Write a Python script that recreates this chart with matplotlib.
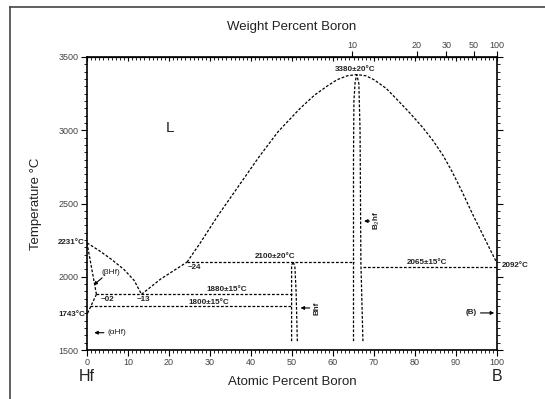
import numpy as np
import matplotlib
matplotlib.use("Agg")
import matplotlib.pyplot as plt
from matplotlib.lines import Line2D
from matplotlib.ticker import MultipleLocator

plt.rcParams['font.family'] = ['Liberation Sans', 'DejaVu Sans']

M_B = 10.81
M_HF = 178.49

# phase boundaries, atomic percent boron vs temperature (C)
liq_hf_x = [0, 3, 6, 9, 11.5, 13.3]
liq_hf_t = [2231, 2178, 2118, 2050, 1975, 1880]
liq_eu_x = [13.3, 18, 24.4]
liq_eu_t = [1880, 1985, 2100]
dome_x = [24.4, 27.6, 32, 38, 42, 46.6, 52, 55.5, 58.5, 61, 63.5, 65.8,
          68, 70, 73, 76.3, 79, 82, 84.5, 86.8, 89, 91.5, 94, 97, 100]
dome_t = [2100, 2230, 2420, 2660, 2820, 2990, 3150, 3240, 3300, 3345, 3372, 3380,
          3372, 3345, 3285, 3190, 3110, 3015, 2925, 2830, 2720, 2580, 2430, 2260, 2092]
sol_hf_x = [0, 2.3]
sol_hf_t = [2231, 1880]
solv_hf_x = [2.3, 0]
solv_hf_t = [1880, 1743]
hfb2_l_x = [65.0, 65.0, 65.1, 65.4, 65.8]
hfb2_l_t = [1560, 2800, 3200, 3330, 3380]
hfb2_r_x = [67.3, 66.8, 66.6, 66.3, 65.8]
hfb2_r_t = [1560, 2100, 3000, 3320, 3380]
hfb_l_x = [49.9, 49.9, 50.3]
hfb_l_t = [1560, 2080, 2100]
hfb_r_x = [51.3, 51.0, 50.7, 50.3]
hfb_r_t = [1560, 1900, 2070, 2100]

# invariant lines: (x start, x end, temperature)
inv_lines = [(24.4, 65.0, 2100), (67.3, 100, 2065),
             (2.3, 49.9, 1880), (0.8, 49.9, 1800)]

wt_ticks = [10, 20, 30, 50, 100]


def at2wt(a):
    a = np.asarray(a, dtype=float)
    return 100 * a * M_B / (a * M_B + (100 - a) * M_HF)


def wt2at(w):
    w = np.asarray(w, dtype=float)
    return 100 * (w / M_B) / (w / M_B + (100 - w) / M_HF)


fig = plt.figure(figsize=(5.45, 3.99), dpi=100)
ax = fig.add_axes([87 / 545, 1 - 350 / 399, 410 / 545, 293 / 399])

dash = dict(color='black', lw=0.9, ls=(0, (2.2, 1.4)))
for xs, ts in [(liq_hf_x, liq_hf_t), (liq_eu_x, liq_eu_t), (dome_x, dome_t),
               (sol_hf_x, sol_hf_t), (solv_hf_x, solv_hf_t),
               (hfb2_l_x, hfb2_l_t), (hfb2_r_x, hfb2_r_t),
               (hfb_l_x, hfb_l_t), (hfb_r_x, hfb_r_t)]:
    ax.plot(xs, ts, **dash)
for x0, x1, t in inv_lines:
    ax.plot([x0, x1], [t, t], **dash)

ax.set_xlim(0, 100)
ax.set_ylim(1500, 3500)
ax.xaxis.set_major_locator(MultipleLocator(10))
ax.xaxis.set_minor_locator(MultipleLocator(1))
ax.yaxis.set_major_locator(MultipleLocator(500))
ax.yaxis.set_minor_locator(MultipleLocator(50))
ax.tick_params(axis='both', which='major', labelsize=6.5, labelcolor='#444444',
               length=4, width=0.8, direction='out', pad=2)
ax.tick_params(axis='both', which='minor', length=2, width=0.6, direction='out')
ax.tick_params(axis='y', right=True, which='both')
for s in ax.spines.values():
    s.set_linewidth(1.2)

# at% ticks mirrored on top, pointing in
top_in = ax.secondary_xaxis('top')
top_in.xaxis.set_major_locator(MultipleLocator(10))
top_in.xaxis.set_minor_locator(MultipleLocator(1))
top_in.tick_params(which='major', direction='in', length=3, width=0.8, labeltop=False)
top_in.tick_params(which='minor', direction='in', length=2, width=0.6)

# weight percent scale on top
top_wt = ax.secondary_xaxis('top', functions=(at2wt, wt2at))
top_wt.set_xticks(wt_ticks)
top_wt.xaxis.set_minor_locator(plt.NullLocator())
top_wt.tick_params(which='major', direction='out', length=4, width=0.8,
                   labelsize=6.5, labelcolor='#444444', pad=1)
top_wt.set_xlabel('Weight Percent Boron', fontsize=9.5, color='#222222', labelpad=8)

ax.set_xlabel('Atomic Percent Boron', fontsize=9.5, color='#222222', labelpad=6)
ax.set_ylabel('Temperature °C', fontsize=9.5, color='#222222', labelpad=12)

bold = dict(fontsize=5.8, fontweight='bold', color='#222222')
ax.text(65.4, 3415, '3380±20°C', ha='center', va='center', **bold)
ax.text(45.9, 2135, '2100±20°C', ha='center', va='center', **bold)
ax.text(82.9, 2100, '2065±15°C', ha='center', va='center', **bold)
ax.text(34.1, 1910, '1880±15°C', ha='center', va='center', **bold)
ax.text(29.8, 1823, '1800±15°C', ha='center', va='center', **bold)
ax.text(101.2, 2080, '2092°C', ha='left', va='center', clip_on=False, **bold)
ax.text(-0.5, 2231, '2231°C', ha='right', va='center', clip_on=False, **bold)
ax.text(-0.5, 1743, '1743°C', ha='right', va='center', clip_on=False, **bold)
ax.text(26.3, 2060, '~24', ha='center', va='center', **bold)
ax.text(13.7, 1848, '~13', ha='center', va='center', **bold)
ax.text(4.9, 1848, '~02', ha='center', va='center', **bold)
ax.text(56.1, 1787, 'Bhf', rotation=90, ha='center', va='center', **bold)
ax.text(70.7, 2387, 'B$_2$hf', rotation=90, ha='center', va='center', **bold)
ax.text(95.0, 1753, '(B)', ha='right', va='center', **bold)
ax.text(5.9, 2026, '(βHf)', ha='center', va='center', fontsize=6, color='#222222')
ax.text(5.0, 1618, '(αHf)', ha='left', va='center', fontsize=6, color='#222222')
ax.text(20.2, 3015, 'L', ha='center', va='center', fontsize=11, color='#222222')
ax.text(0, 1322, 'Hf', ha='center', va='center', fontsize=11.5, color='#222222', clip_on=False)
ax.text(100, 1322, 'B', ha='center', va='center', fontsize=11.5, color='#222222', clip_on=False)

arr = dict(arrowstyle='-|>', color='black', lw=0.8, mutation_scale=5)
ax.annotate('', xy=(51.4, 1787), xytext=(55.0, 1787), arrowprops=arr)
ax.annotate('', xy=(66.9, 2380), xytext=(69.6, 2380), arrowprops=arr)
ax.annotate('', xy=(100, 1753), xytext=(95.3, 1753), arrowprops=arr)
ax.annotate('', xy=(1.1, 1618), xytext=(4.8, 1618), arrowprops=arr)
ax.annotate('', xy=(1.1, 1930), xytext=(4.2, 2005), arrowprops=arr)

# page frame
fig.add_artist(Line2D([10 / 545, 10 / 545], [0, 1 - 7 / 399], color='#444444', lw=1.2))
fig.add_artist(Line2D([10 / 545, 1], [1 - 7 / 399, 1 - 7 / 399], color='#444444', lw=1.2))

fig.savefig('out.png', dpi=100)
